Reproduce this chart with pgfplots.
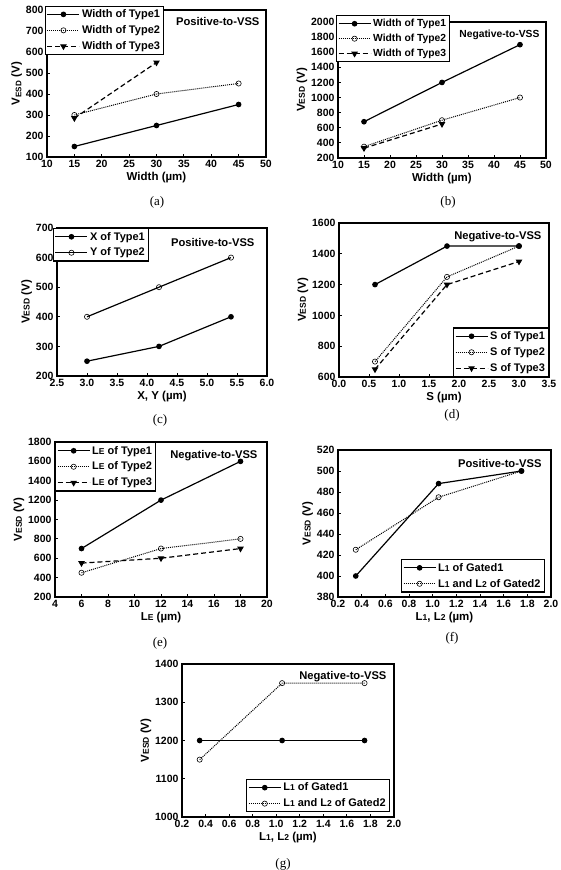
\documentclass[border=0pt]{standalone}
\usepackage{fontspec}
\setmainfont{Liberation Sans}
\newfontfamily\capfont{Liberation Serif}
\usepackage{pgfplots}
\pgfplotsset{compat=1.18}
\tikzset{
  tag/.style={anchor=north east, font=\fontsize{11.2}{13}\selectfont\bfseries},
  fix1/.style={/pgf/number format/fixed, /pgf/number format/fixed zerofill, /pgf/number format/precision=1},
}
\pgfplotsset{
  base/.style={
    scale only axis,
    anchor=south west,
    axis line style={line width=1.1pt},
    tick align=inside,
    major tick length=2.5pt,
    xtick pos=lower, ytick pos=left,
    tick style={line width=0.8pt,black},
    /pgf/number format/assume math mode=true,
    /pgf/number format/1000 sep={},
    ticklabel style={font=\fontsize{10.5}{12}\selectfont\bfseries},
    label style={font=\fontsize{11.5}{13}\selectfont\bfseries},
    xlabel style={yshift=3pt},
    ylabel style={yshift=-3pt},
    legend style={draw=black, line width=1.1pt, font=\fontsize{11}{13}\selectfont\bfseries, inner sep=1.5pt, row sep=2.5pt,
      /tikz/every even column/.append style={column sep=3pt}},
    legend cell align=left,
    legend image code/.code={\draw[mark repeat=2,mark phase=2,##1] plot coordinates {(0pt,0pt) (16pt,0pt) (32pt,0pt)};},
    clip=false,
  },
  t1/.style={black, line width=1.2pt, mark=*, mark size=2.2pt, mark options={solid,fill=black}},
  t2/.style={black, line width=1pt, densely dotted, mark=o, mark size=2.6pt, mark options={solid, fill=white, line width=0.6pt}},
  t2s/.style={black, line width=1.2pt, mark=o, mark size=2.6pt, mark options={solid, fill=white, line width=0.6pt}},
  t3/.style={black, line width=1.2pt, dash pattern=on 5pt off 3pt, mark=triangle*, mark size=2.7pt, mark options={solid, fill=black, rotate=180}},
}
\newcommand{\vesd}{V{\fontsize{8.5}{8.5}\selectfont ESD} (V)}
\newcommand{\sm}[1]{{\fontsize{8.5}{8.5}\selectfont #1}}
\begin{document}
\begin{tikzpicture}
\useasboundingbox (0,0) rectangle (561pt,870pt);
% (a)
\begin{axis}[base, at={(47pt,713pt)}, width=219pt, height=147pt,
  xmin=10, xmax=50, xtick={10,15,...,50}, ymin=100, ymax=800, ytick={100,200,...,800},
  xlabel={Width (µm)}, ylabel={V\textsubscript{ESD} (V)},
  legend style={at={(-0.01,1.03)}, anchor=north west}]
\addplot[t1] coordinates {(15,150) (30,250) (45,350)};
\addplot[t2] coordinates {(15,300) (30,400) (45,450)};
\addplot[t3] coordinates {(15,285) (30,550)};
\legend{Width of Type1, Width of Type2, Width of Type3}
\node[tag, xshift=-3pt, yshift=-4pt] at (rel axis cs:1,1) {Positive-to-VSS};
\end{axis}
% (b)
\begin{axis}[base, at={(338pt,712pt)}, width=208pt, height=136pt,
  xmin=10, xmax=50, xtick={10,15,...,50}, ymin=200, ymax=2000, ytick={200,400,...,2000},
  xlabel={Width (µm)}, ylabel={\vesd},
  legend style={at={(-0.01,1.05)}, anchor=north west, font=\fontsize{10.3}{12}\selectfont\bfseries, row sep=2pt}]
\addplot[t1] coordinates {(15,680) (30,1200) (45,1700)};
\addplot[t2] coordinates {(15,350) (30,700) (45,1000)};
\addplot[t3] coordinates {(15,330) (30,650)};
\legend{Width of Type1, Width of Type2, Width of Type3}
\node[tag, font=\fontsize{10.3}{12}\selectfont\bfseries, xshift=-3pt, yshift=-5pt] at (rel axis cs:1,1) {Negative-to-VSS};
\end{axis}
% (c)
\begin{axis}[base, at={(57pt,494pt)}, width=210pt, height=148pt,
  xmin=2.5, xmax=6.0, xtick={2.5,3.0,...,6.0}, xticklabel style={fix1}, ymin=200, ymax=700, ytick={200,300,...,700},
  xlabel={X, Y (µm)}, ylabel={\vesd},
  legend style={at={(-0.02,1)}, anchor=north west}]
\addplot[t1] coordinates {(3.0,250) (4.2,300) (5.4,400)};
\addplot[t2s] coordinates {(3.0,400) (4.2,500) (5.4,600)};
\legend{X of Type1, Y of Type2}
\node[tag, xshift=-9pt, yshift=-7pt] at (rel axis cs:1,1) {Positive-to-VSS};
\end{axis}
% (d)
\begin{axis}[base, at={(339pt,493pt)}, width=210pt, height=154pt,
  xmin=0, xmax=3.5, xtick={0,0.5,...,3.5}, xticklabel style={fix1}, ymin=600, ymax=1600, ytick={600,800,...,1600},
  xlabel={S (µm)}, ylabel={\vesd},
  legend style={at={(1,0)}, anchor=south east}]
\addplot[t1] coordinates {(0.6,1200) (1.8,1450) (3.0,1450)};
\addplot[t2] coordinates {(0.6,700) (1.8,1250) (3.0,1450)};
\addplot[t3] coordinates {(0.6,650) (1.8,1200) (3.0,1350)};
\legend{S of Type1, S of Type2, S of Type3}
\node[tag, xshift=-4pt, yshift=-5pt] at (rel axis cs:1,1) {Negative-to-VSS};
\end{axis}
% (e)
\begin{axis}[base, at={(55pt,273pt)}, width=212pt, height=155pt,
  xmin=4, xmax=20, xtick={4,6,...,20}, ymin=200, ymax=1800, ytick={200,400,...,1800},
  xlabel={L\sm{E} (µm)}, ylabel={\vesd},
  legend style={at={(0,1)}, anchor=north west}]
\addplot[t1] coordinates {(6,700) (12,1200) (18,1600)};
\addplot[t2] coordinates {(6,450) (12,700) (18,800)};
\addplot[t3] coordinates {(6,550) (12,600) (18,700)};
\legend{L\sm{E} of Type1, L\sm{E} of Type2, L\sm{E} of Type3}
\node[tag, xshift=-6pt, yshift=-5pt] at (rel axis cs:1,1) {Negative-to-VSS};
\end{axis}
% (f)
\begin{axis}[base, at={(338pt,273pt)}, width=213pt, height=147pt,
  xmin=0.2, xmax=2.0, xtick={0.2,0.4,...,2.01}, xticklabel style={fix1}, ymin=380, ymax=520, ytick={380,400,...,520},
  xlabel={L\sm{1}, L\sm{2} (µm)}, ylabel={\vesd},
  legend style={at={(0.97,0.03)}, anchor=south east}]
\addplot[t1] coordinates {(0.35,400) (1.05,488) (1.75,500)};
\addplot[t2] coordinates {(0.35,425) (1.05,475) (1.75,500)};
\legend{L\sm{1} of Gated1, L\sm{1} and L\sm{2} of Gated2}
\node[tag, xshift=-6pt, yshift=-6pt] at (rel axis cs:1,1) {Positive-to-VSS};
\end{axis}
% (g)
\begin{axis}[base, at={(182pt,53pt)}, width=212pt, height=153pt,
  xmin=0.2, xmax=2.0, xtick={0.2,0.4,...,2.01}, xticklabel style={fix1}, ymin=1000, ymax=1400, ytick={1000,1100,...,1400},
  xlabel={L\sm{1}, L\sm{2} (µm)}, ylabel={\vesd},
  legend style={at={(0.98,0.03)}, anchor=south east}]
\addplot[t1] coordinates {(0.35,1200) (1.05,1200) (1.75,1200)};
\addplot[t2] coordinates {(0.35,1150) (1.05,1350) (1.75,1350)};
\legend{L\sm{1} of Gated1, L\sm{1} and L\sm{2} of Gated2}
\node[tag, xshift=-4pt, yshift=-4pt] at (rel axis cs:1,1) {Negative-to-VSS};
\end{axis}
% captions
\begin{scope}[every node/.style={font=\capfont\fontsize{13}{14}\selectfont}]
\node at (157pt,668pt) {(a)};
\node at (448pt,668pt) {(b)};
\node at (160pt,450pt) {(c)};
\node at (452pt,455pt) {(d)};
\node at (160pt,227pt) {(e)};
\node at (452pt,232pt) {(f)};
\node at (283pt,6pt) {(g)};
\end{scope}
\end{tikzpicture}
\end{document}
